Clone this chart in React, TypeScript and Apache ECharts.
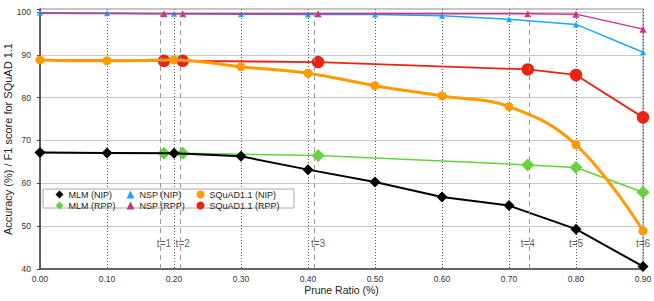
import { useEffect, useRef } from "react";
import * as echarts from "echarts";

// Prune ratios
const nipX = [0, 0.1, 0.2, 0.3, 0.4, 0.5, 0.6, 0.7, 0.8, 0.9];
const rppX = [0, 0.185, 0.213, 0.415, 0.728, 0.8, 0.9];
const tLabels = ["t=1", "t=2", "t=3", "t=4", "t=5", "t=6"];

// Values
const mlmNIP = [67.2, 67.1, 67.0, 66.3, 63.2, 60.3, 56.8, 54.8, 49.3, 40.6];
const mlmRPP = [67.2, 67.05, 67.0, 66.5, 64.3, 63.7, 57.9];
const nspNIP = [99.8, 99.7, 99.6, 99.5, 99.4, 99.4, 99.1, 98.3, 97.1, 90.6];
const nspRPP = [99.7, 99.6, 99.6, 99.6, 99.6, 99.5, 96.0];
const squadNIP = [88.8, 88.6, 88.8, 87.2, 85.7, 82.8, 80.4, 77.9, 69.0, 48.9];
const squadRPP = [88.8, 88.6, 88.6, 88.3, 86.6, 85.3, 75.4];

const tLabelY = 46.05;

const pair = (xs: number[], ys: number[]) => xs.map((x, i) => [x, ys[i]]);
// RPP series share the baseline point at 0 with NIP; its marker is hidden there
const pairRPP = (xs: number[], ys: number[]) =>
  xs.map((x, i) => (i === 0 ? { value: [x, ys[i]], symbol: "none" } : [x, ys[i]]));

export default function App() {
  const ref = useRef<HTMLDivElement>(null);
  useEffect(() => {
    if (!ref.current) return;
    const chart = echarts.init(ref.current, undefined, { renderer: "svg" });
    const font = "Liberation Sans, Arial, Helvetica, sans-serif";
    const legendText = { fontSize: 9, color: "#222", fontFamily: font };
    const legendCommon = {
      orient: "vertical" as const,
      top: 190,
      itemWidth: 8,
      itemHeight: 8,
      itemGap: 2,
      padding: 0,
      z: 6,
      selectedMode: false,
      textStyle: legendText,
    };
    chart.setOption({
      animation: false,
      textStyle: { fontFamily: font },
      grid: {
        left: 40,
        right: 11,
        top: 9,
        bottom: 32,
        containLabel: false,
        outerBoundsMode: "none",
        show: true,
        borderColor: "#888",
        borderWidth: 1,
      },
      xAxis: {
        type: "value",
        min: 0,
        max: 0.9,
        interval: 0.1,
        name: "Prune Ratio (%)",
        nameLocation: "middle",
        nameGap: 15,
        nameMoveOverlap: false,
        nameTextStyle: { fontSize: 10.5, color: "#222", fontFamily: font },
        axisLine: { lineStyle: { color: "#444", width: 1.5 } },
        axisTick: { show: false },
        axisLabel: {
          fontSize: 8.5,
          color: "#333",
          margin: 5,
          formatter: (v: number) => v.toFixed(2),
        },
        splitLine: { show: true, lineStyle: { color: "#555", type: [1, 2], width: 1 } },
      },
      yAxis: {
        type: "value",
        min: 40,
        max: 100.7,
        interval: 10,
        name: "Accuracy (%) / F1 score for SQuAD 1.1",
        nameLocation: "middle",
        nameGap: 27,
        nameMoveOverlap: false,
        nameTextStyle: { fontSize: 11, color: "#222", fontFamily: font },
        axisLine: { show: true, lineStyle: { color: "#444", width: 1.5 } },
        axisTick: { show: true, length: 3, lineStyle: { color: "#444" } },
        axisLabel: {
          fontSize: 8.5,
          color: "#333",
          margin: 9,
          formatter: (v: number) => (Math.abs(v % 10) < 1e-6 ? String(v) : ""),
        },
        splitLine: { show: true, lineStyle: { color: "#c8c8c8", width: 1.2 } },
      },
      legend: [
        {
          ...legendCommon,
          left: 55.5,
          data: [
            { name: "MLM (NIP)", icon: "diamond" },
            { name: "MLM (RPP)", icon: "diamond" },
          ],
        },
        {
          ...legendCommon,
          left: 126.5,
          data: [
            { name: "NSP (NIP)", icon: "triangle" },
            { name: "NSP (RPP)", icon: "triangle" },
          ],
        },
        {
          ...legendCommon,
          left: 196.5,
          data: [
            { name: "SQuAD1.1 (NIP)", icon: "circle" },
            { name: "SQuAD1.1 (RPP)", icon: "circle" },
          ],
        },
      ],
      graphic: [
        {
          type: "rect",
          z: 5,
          shape: { x: 43, y: 189, width: 251, height: 19 },
          style: { fill: "#fff", stroke: "#aaa", lineWidth: 1 },
        },
      ],
      series: [
        {
          name: "MLM (RPP)",
          type: "line",
          z: 2,
          data: pairRPP(rppX, mlmRPP),
          symbol: "diamond",
          symbolSize: 13,
          color: "#66d23c",
          lineStyle: { width: 1.5, color: "#66d23c" },
          itemStyle: { color: "#66d23c" },
          markLine: {
            silent: true,
            symbol: "none",
            label: { show: false },
            lineStyle: { color: "#999", type: [5, 4], width: 1 },
            data: rppX.slice(1, 5).map((x) => ({ xAxis: x })),
          },
        },
        {
          name: "MLM (NIP)",
          type: "line",
          z: 3,
          data: pair(nipX, mlmNIP),
          symbol: "diamond",
          symbolSize: 11,
          color: "#000",
          lineStyle: { width: 2, color: "#000" },
          itemStyle: { color: "#000" },
        },
        {
          name: "NSP (RPP)",
          type: "line",
          z: 3,
          data: pairRPP(rppX, nspRPP),
          symbol: "triangle",
          symbolSize: 7,
          color: "#cc3388",
          lineStyle: { width: 1.5, color: "#cc3388" },
          itemStyle: { color: "#cc3388" },
        },
        {
          name: "NSP (NIP)",
          type: "line",
          z: 2,
          data: pair(nipX, nspNIP),
          symbol: "triangle",
          symbolSize: 6,
          color: "#1aa8ff",
          lineStyle: { width: 1.5, color: "#1aa8ff" },
          itemStyle: { color: "#1aa8ff" },
        },
        {
          name: "SQuAD1.1 (RPP)",
          type: "line",
          z: 2,
          data: pairRPP(rppX, squadRPP),
          symbol: "circle",
          symbolSize: 12.5,
          color: "#ee2211",
          lineStyle: { width: 1.8, color: "#ee2211" },
          itemStyle: { color: "#ee2211" },
        },
        {
          name: "SQuAD1.1 (NIP)",
          type: "line",
          z: 3,
          data: pair(nipX, squadNIP),
          smooth: 0.4,
          symbol: "circle",
          symbolSize: 9,
          color: "#ff9a00",
          lineStyle: { width: 3, color: "#ff9a00" },
          itemStyle: { color: "#ff9a00" },
        },
        {
          name: "tLabels",
          type: "scatter",
          z: 4,
          silent: true,
          symbolSize: 0,
          data: rppX.slice(1).map((x, i) => ({ value: [x, tLabelY], name: tLabels[i] })),
          label: {
            show: true,
            position: "inside",
            formatter: (p: any) => p.name,
            fontSize: 10,
            color: "#333",
            fontFamily: font,
          },
        },
      ],
    });
    return () => chart.dispose();
  }, []);
  return (
    <div
      ref={ref}
      style={{ position: "fixed", left: 0, top: 0, width: 654, height: 301, background: "#fff" }}
    />
  );
}
